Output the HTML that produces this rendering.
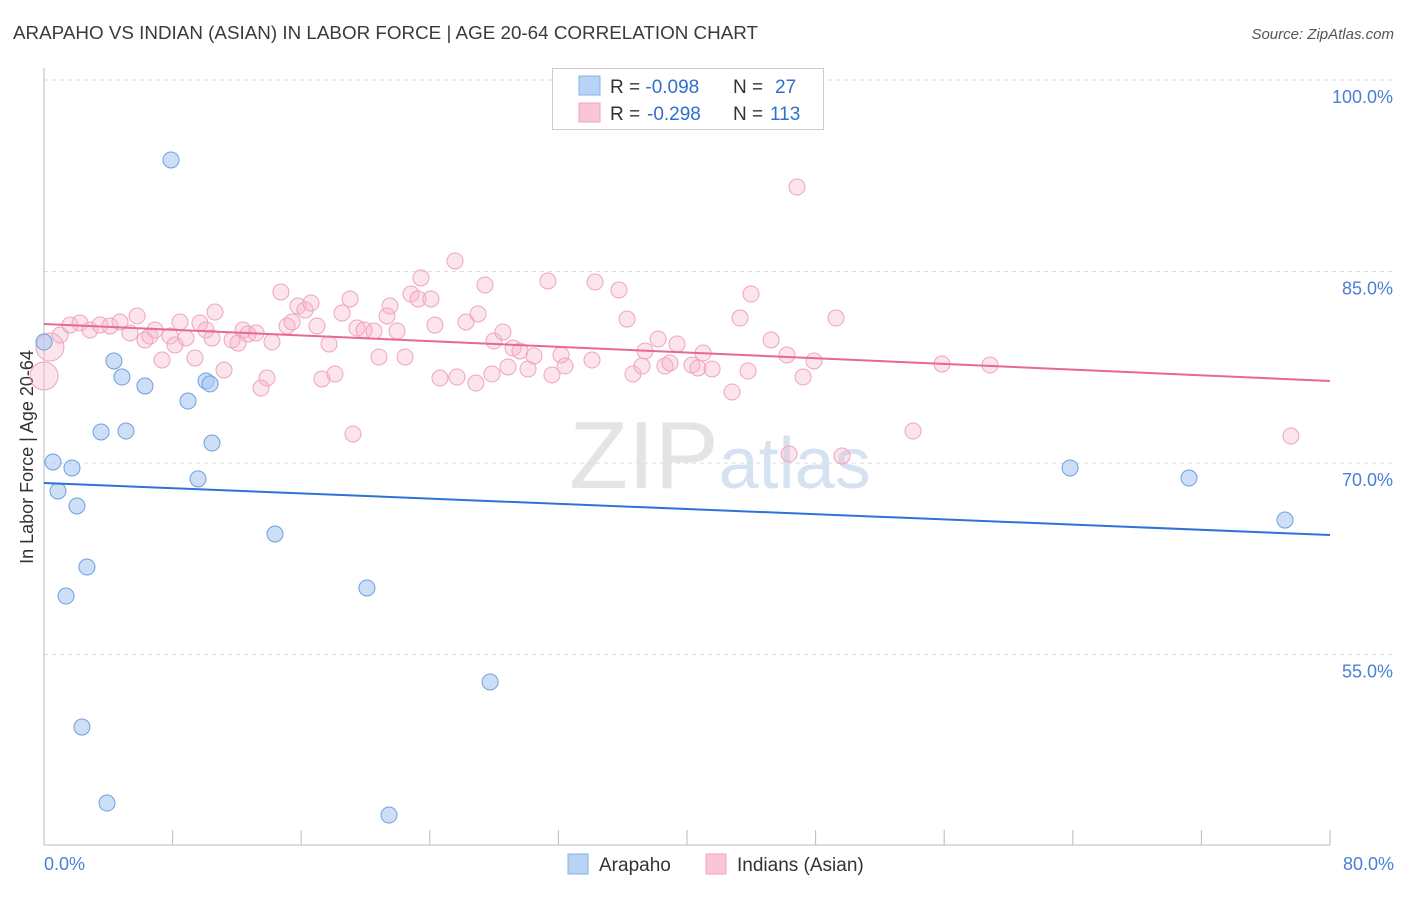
<!DOCTYPE html>
<html><head><meta charset="utf-8"><style>
body{margin:0;background:#fff;font-family:"Liberation Sans",sans-serif;}
svg text{font-family:"Liberation Sans",sans-serif;}
</style></head><body>
<svg id="chart" width="1406" height="892" xmlns="http://www.w3.org/2000/svg">
<text x="13" y="39" font-size="18" fill="#3a3a3a" textLength="745" lengthAdjust="spacingAndGlyphs">ARAPAHO VS INDIAN (ASIAN) IN LABOR FORCE | AGE 20-64 CORRELATION CHART</text>
<text x="1394" y="39" font-size="15" fill="#555" text-anchor="end" font-style="italic">Source: ZipAtlas.com</text>
<text x="720" y="488" font-size="96" text-anchor="middle" fill="#e4e4e4" font-family="Liberation Serif,serif">ZIP<tspan fill="#d6e2f2" font-family="Liberation Sans,sans-serif" font-size="72">atlas</tspan></text>
<text transform="translate(33,457) rotate(-90)" font-size="18" fill="#333" text-anchor="middle">In Labor Force | Age 20-64</text>
<g id="grid"></g><g id="axes"></g><g id="pts"></g><g id="trend"></g>
<g>
<rect x="552.5" y="68.5" width="271" height="61" fill="#fff" stroke="#ccc"/>
<rect x="579" y="76" width="21" height="19" fill="#b7d3f6" stroke="#8ab2e6"/>
<rect x="579" y="103" width="21" height="19" fill="#f9c6d6" stroke="#eea3bd"/>
<text x="610" y="93" font-size="19" fill="#333">R = <tspan fill="#2f6fd0">-0.098</tspan><tspan x="733">N = </tspan><tspan x="775" fill="#2f6fd0">27</tspan></text>
<text x="610" y="120" font-size="19" fill="#333">R = <tspan x="647" fill="#2f6fd0">-0.298</tspan><tspan x="733">N = </tspan><tspan x="770" fill="#2f6fd0">113</tspan></text>
</g>
<g>
<rect x="568" y="854" width="20" height="20" fill="#b7d3f6" stroke="#8ab2e6"/>
<text x="599" y="871" font-size="19" fill="#333">Arapaho</text>
<rect x="706" y="854" width="20" height="20" fill="#f9c6d6" stroke="#eea3bd"/>
<text x="737" y="871" font-size="19" fill="#333">Indians (Asian)</text>
</g>
</svg>
<script>
const yTicks=[100,85,70,55];
const xTickLabels=["0.0%","80.0%"];
const blueX=[7.90,0.0,4.35,4.85,6.28,10.08,10.33,8.96,3.55,5.10,10.45,0.56,1.74,9.58,0.87,2.05,14.37,2.67,1.37,20.09,27.75,2.36,3.92,21.46,63.83,71.23,77.20];
const blueY=[93.74,79.48,78.0,76.74,76.04,76.43,76.2,74.86,72.44,72.51,71.57,70.09,69.62,68.76,67.82,66.64,64.45,61.86,59.59,60.22,52.86,49.33,43.38,42.44,69.62,68.83,65.54];
const pinkX=[0.37,0,1.0,1.62,2.24,2.86,3.48,4.11,4.73,5.35,5.79,6.28,6.59,6.91,7.34,7.84,8.15,8.46,8.83,9.39,9.70,10.08,10.45,10.64,11.20,11.70,12.07,12.38,12.69,13.19,13.50,13.87,14.18,14.74,15.12,15.43,15.80,16.24,16.61,16.98,17.29,17.73,18.10,18.54,19.04,19.22,19.47,19.91,20.53,20.84,21.34,21.52,21.96,22.46,22.83,23.27,23.45,24.07,24.32,24.63,25.57,25.69,26.25,26.87,27.0,27.43,27.87,27.99,28.55,28.86,29.18,29.61,30.11,30.48,31.35,31.6,32.16,32.41,34.09,34.28,35.77,36.27,36.64,37.2,37.39,38.2,38.63,38.94,39.38,40.31,40.68,41.0,41.56,42.8,43.3,43.8,43.98,45.23,46.22,46.84,47.22,46.35,47.9,49.27,49.64,54.06,55.86,58.85,77.57];
const pinkY=[79.09,76.82,80.03,80.81,80.97,80.42,80.81,80.74,81.05,80.19,81.52,79.64,79.95,80.42,78.07,79.95,79.25,81.05,79.8,78.23,80.97,80.42,79.8,81.83,77.29,79.64,79.4,80.42,80.11,80.19,75.88,76.66,79.48,83.4,80.74,81.05,82.3,81.99,82.54,80.74,76.59,79.33,76.98,81.75,82.85,72.28,80.58,80.42,80.34,78.31,81.52,82.3,80.34,78.31,83.24,82.85,84.5,82.85,80.81,76.66,85.83,76.74,81.05,76.27,81.68,83.95,76.98,79.56,80.27,77.53,79.01,78.78,77.37,78.39,84.26,76.9,78.47,77.6,78.07,84.18,83.56,81.28,76.98,77.6,78.78,79.72,77.6,77.84,79.33,77.68,77.45,78.62,77.37,75.57,81.36,77.21,83.24,79.64,78.47,91.62,76.74,70.71,78.0,81.36,70.56,72.51,77.76,77.68,72.12];
const blueTrend=[68.44,64.37];
const pinkTrend=[80.89,76.43];
const xMin=0,xMax=80;
const X=v=>44+(v-xMin)/(xMax-xMin)*1286;
const Y=v=>80+(100-v)*12.77;
const NS="http://www.w3.org/2000/svg";
function mk(tag,attrs,parent){const e=document.createElementNS(NS,tag);for(const k in attrs)e.setAttribute(k,attrs[k]);document.getElementById(parent).appendChild(e);return e;}
yTicks.forEach(t=>{
 const l=mk('line',{x1:44,x2:1394,y1:Y(t),y2:Y(t),stroke:'#ddd','stroke-dasharray':'4,4'},'grid');
 
 
 const tx=mk('text',{x:1393,y:Y(t)+23,'font-size':18,fill:'#4a7fd6','text-anchor':'end'},'grid');
 tx.textContent=t.toFixed(1)+'%';
 
 
});
const ax=mk('line',{x1:44,x2:44,y1:68,y2:845,stroke:'#bbb'},'axes');


const bx=mk('line',{x1:44,x2:1330,y1:845,y2:845,stroke:'#bbb'},'axes');


for(let i=1;i<=10;i++){
 const t=mk('line',{x1:X(i*8),x2:X(i*8),y1:830,y2:845,stroke:'#bbb'},'axes');
 
 
}
[[0,'start',44],[80,'end',1394]].forEach((d,i)=>{
 const t=mk('text',{x:d[2],y:870,'font-size':18,fill:'#4a7fd6','text-anchor':d[1]},'axes');
 t.textContent=xTickLabels[i];
 
 
});
pinkX.forEach((v,i)=>{
 const r=(i<2)?14:8;
 const c=mk('circle',{cx:X(v),cy:Y(pinkY[i]),r:r,fill:'rgba(246,178,202,0.35)',stroke:'#f0a3bf','stroke-width':1},'pts');
 
 
});
blueX.forEach((v,i)=>{
 const c=mk('circle',{cx:X(v),cy:Y(blueY[i]),r:8,fill:'rgba(170,202,242,0.6)',stroke:'#6f9fdc','stroke-width':1},'pts');
 
 
});
const bt=mk('line',{x1:X(0),x2:X(80),y1:Y(blueTrend[0]),y2:Y(blueTrend[1]),stroke:'#2f72d6','stroke-width':2},'trend');


const pt=mk('line',{x1:X(0),x2:X(80),y1:Y(pinkTrend[0]),y2:Y(pinkTrend[1]),stroke:'#e8679a','stroke-width':2},'trend');


</script>
</body></html>
